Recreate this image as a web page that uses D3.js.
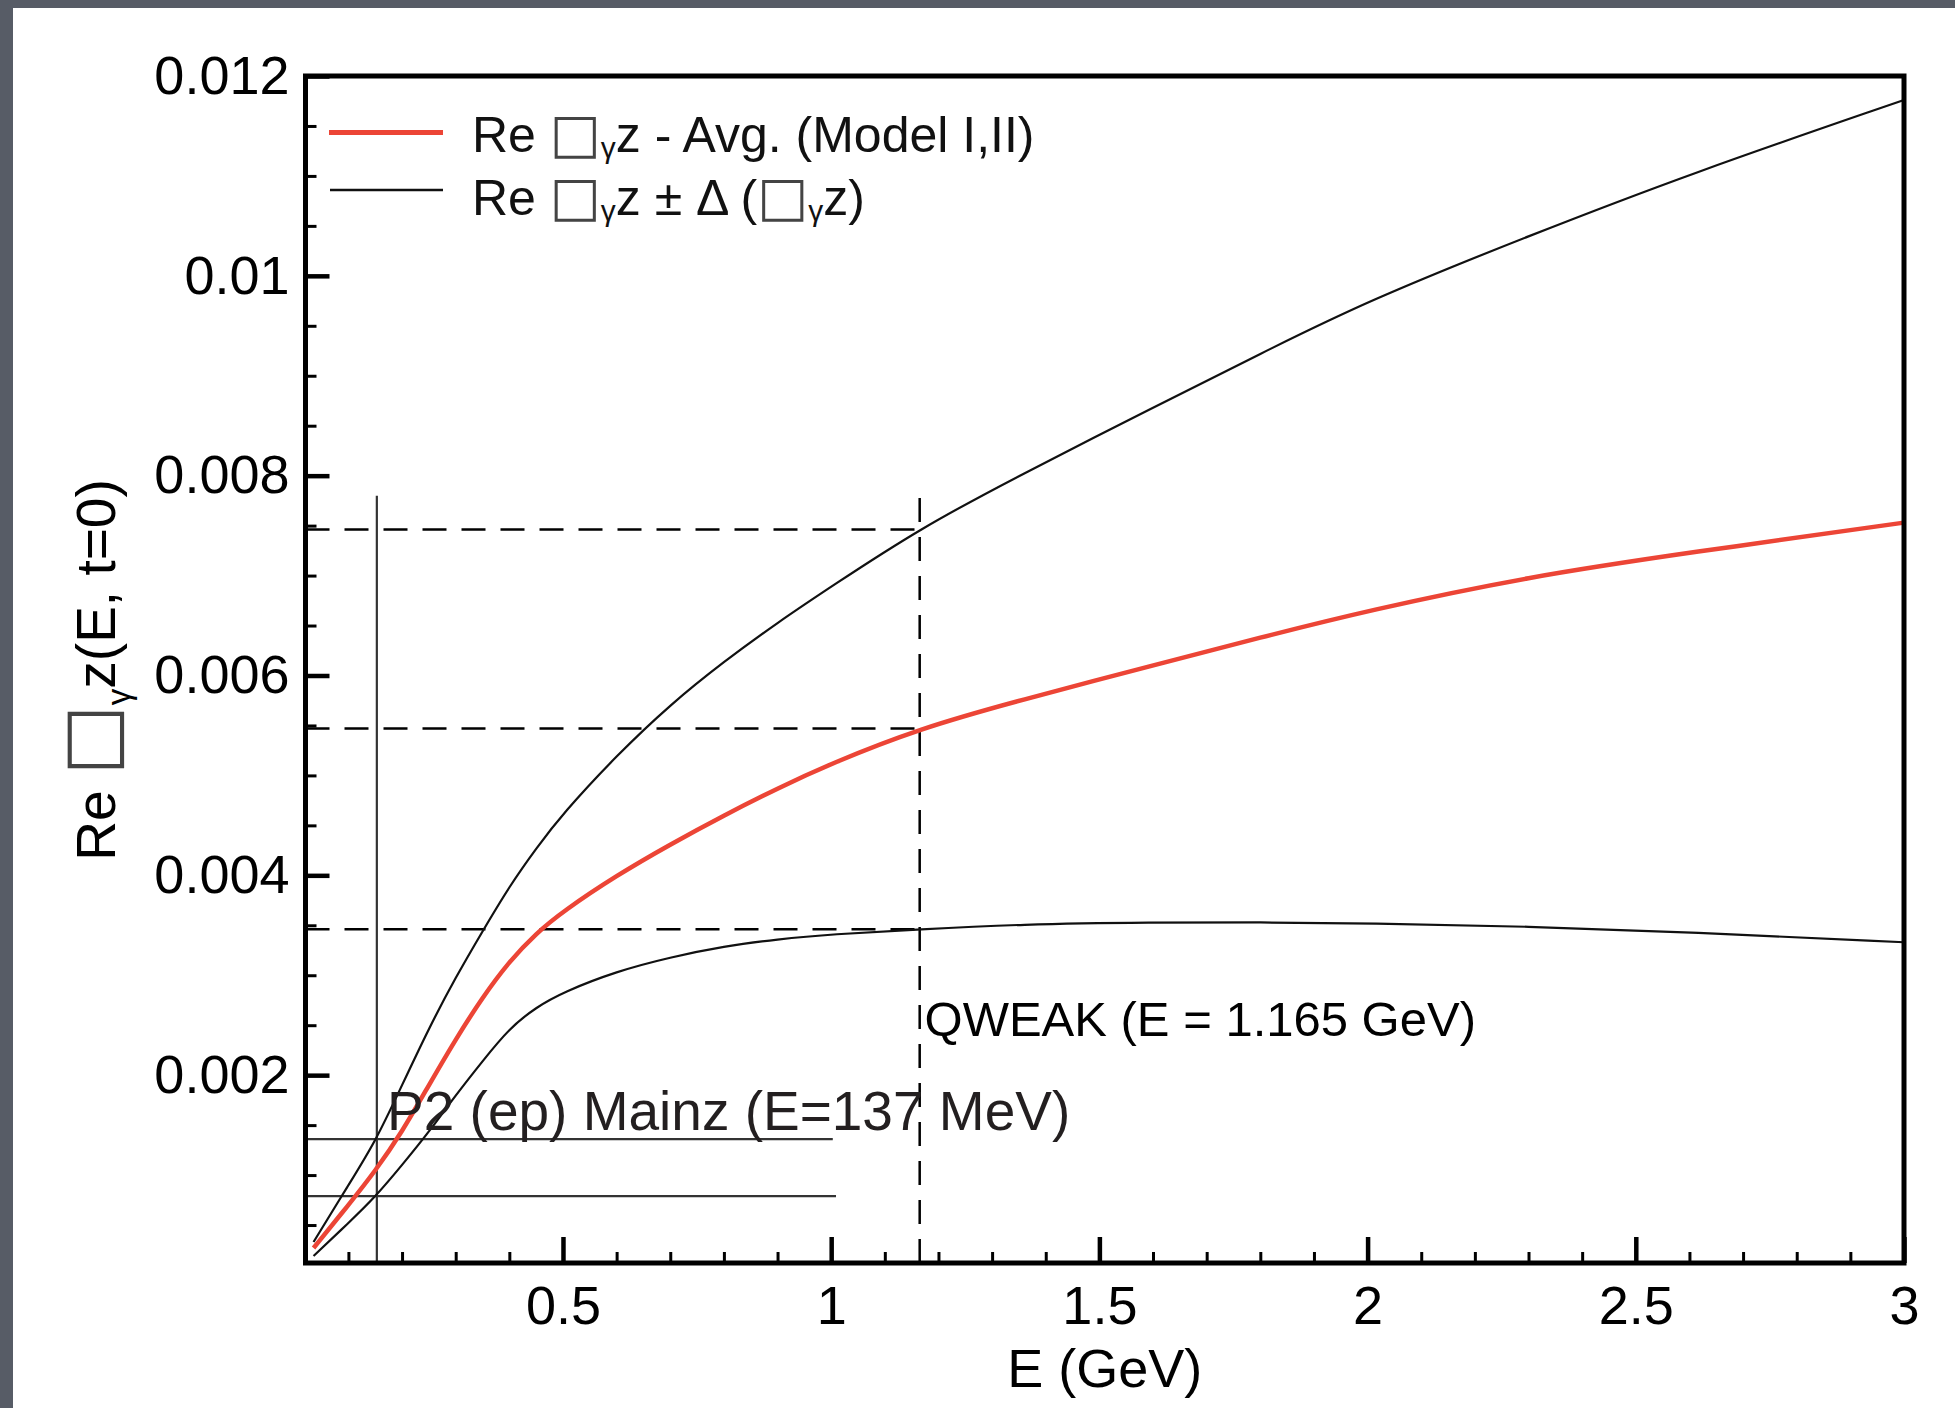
<!DOCTYPE html>
<html>
<head>
<meta charset="utf-8">
<script src="https://cdn.jsdelivr.net/npm/d3@7"></script>
<style>
body { margin: 0; background: #575c66; }
svg { display: block; }
text { font-family: "Liberation Sans", Arial, Helvetica, sans-serif; }
</style>
</head>
<body>
<svg id="chart" width="1955" height="1408"></svg>
<script>
// data (E in GeV)
var energy = [0.035, 0.1, 0.15, 0.2, 0.25, 0.3, 0.35, 0.4, 0.45, 0.5, 0.6, 0.7, 0.8, 0.9, 1.0, 1.165, 1.35, 1.6, 1.8, 2.0, 2.3, 2.6, 3.0];
var avgValues = [0.00027, 0.00070, 0.00104, 0.00143, 0.00190, 0.00236, 0.00278, 0.00314, 0.00342, 0.00364, 0.00400, 0.00431, 0.00460, 0.00487, 0.00512, 0.00547, 0.00575, 0.00610, 0.00638, 0.00665, 0.00699, 0.00723, 0.00753];
var upperValues = [0.00033, 0.00090, 0.00133, 0.00190, 0.00247, 0.00298, 0.00344, 0.00389, 0.00427, 0.00462, 0.00520, 0.00571, 0.00614, 0.00653, 0.00689, 0.00747, 0.00800, 0.00868, 0.00922, 0.00975, 0.01040, 0.01102, 0.01176];
var lowerValues = [0.00019, 0.00052, 0.00078, 0.00110, 0.00143, 0.00180, 0.00214, 0.00247, 0.00268, 0.00283, 0.00304, 0.00318, 0.00329, 0.00336, 0.00341, 0.00346, 0.00351, 0.00353, 0.00353, 0.00352, 0.00349, 0.00343, 0.00333];

// marker lines
var qweakEnergy = 1.165,
    qweakTop = 0.00784,
    qweakLevels = [0.00746, 0.00547, 0.00346];
var p2Energy = 0.153,
    p2Top = 0.0078,
    p2Levels = [0.00136, 0.00079],
    p2LineEnds = [1.003, 1.009];

// ticks
var xMajor = [0.5, 1, 1.5, 2, 2.5, 3],
    xTickLabels = ["0.5", "1", "1.5", "2", "2.5", "3"];
var yMajor = [0.002, 0.004, 0.006, 0.008, 0.01, 0.012],
    yTickLabels = ["0.002", "0.004", "0.006", "0.008", "0.01", "0.012"];
var xMinor = d3.range(1, 30).map(function (i) { return i / 10; }).filter(function (d, i) { return (i + 1) % 5 != 0; });
var yMinor = d3.range(1, 24).map(function (i) { return i * 0.0005; }).filter(function (d, i) { return (i + 1) % 4 != 0; });

// set up layout
var margin = { top: 76, left: 305.5 },
    width = 1904 - 305.5,
    height = 1263 - 76;

var x = d3.scaleLinear().domain([0.02, 3]).range([margin.left, margin.left + width]);
var y = d3.scaleLinear().domain([0.00012, 0.012]).range([margin.top + height, margin.top]);

var svg = d3.select("#chart");

// white page inside the dark border
svg.append("rect")
    .attr("x", 13).attr("y", 8)
    .attr("width", 1955 - 13).attr("height", 1408 - 8)
    .attr("fill", "#ffffff");

function styleAxis(g, w) {
    g.select(".domain").remove();
    g.selectAll(".tick line").attr("stroke", "#000").attr("stroke-width", w);
    g.attr("font-size", 54).attr("font-family", "'Liberation Sans', Arial, sans-serif");
    g.selectAll(".tick text").attr("fill", "#000");
}

// x-axis
svg.append("g")
    .attr("transform", "translate(0," + (margin.top + height) + ")")
    .call(d3.axisBottom(x).tickValues(xMinor).tickFormat("").tickSize(-11))
    .call(styleAxis, 3);

svg.append("g")
    .attr("transform", "translate(0," + (margin.top + height) + ")")
    .call(d3.axisBottom(x).tickValues(xMajor).tickSize(-26).tickPadding(23)
        .tickFormat(function (d, i) { return xTickLabels[i]; }))
    .call(styleAxis, 4.5);

// y-axis
svg.append("g")
    .attr("transform", "translate(" + margin.left + ",0)")
    .call(d3.axisLeft(y).tickValues(yMinor).tickFormat("").tickSize(-11))
    .call(styleAxis, 3);

svg.append("g")
    .attr("transform", "translate(" + margin.left + ",0)")
    .call(d3.axisLeft(y).tickValues(yMajor).tickSize(-24).tickPadding(16)
        .tickFormat(function (d, i) { return yTickLabels[i]; }))
    .call(styleAxis, 4.5);

// dashed QWEAK guides
svg.append("line")
    .attr("x1", x(qweakEnergy)).attr("x2", x(qweakEnergy))
    .attr("y1", y(0.00012)).attr("y2", y(qweakTop))
    .attr("stroke", "#000").attr("stroke-width", 2.5)
    .attr("stroke-dasharray", "24,15");

svg.selectAll(".qweak-level")
    .data(qweakLevels)
    .enter().append("line")
    .attr("class", "qweak-level")
    .attr("x1", x(0.02)).attr("x2", x(qweakEnergy))
    .attr("y1", function (d) { return y(d); })
    .attr("y2", function (d) { return y(d); })
    .attr("stroke", "#000").attr("stroke-width", 2.5)
    .attr("stroke-dasharray", "24,15");

// solid P2 guides
svg.append("line")
    .attr("x1", x(p2Energy)).attr("x2", x(p2Energy))
    .attr("y1", y(0.00012)).attr("y2", y(p2Top))
    .attr("stroke", "#333").attr("stroke-width", 2.2);

svg.selectAll(".p2-level")
    .data(p2Levels)
    .enter().append("line")
    .attr("class", "p2-level")
    .attr("x1", x(0.02))
    .attr("x2", function (d, i) { return x(p2LineEnds[i]); })
    .attr("y1", function (d) { return y(d); })
    .attr("y2", function (d) { return y(d); })
    .attr("stroke", "#333").attr("stroke-width", 2.2);

// curves
var line = d3.line()
    .x(function (d) { return x(d[0]); })
    .y(function (d) { return y(d[1]); })
    .curve(d3.curveBasis);

function series(values) {
    return energy.map(function (e, i) { return [e, values[i]]; });
}

[upperValues, lowerValues].forEach(function (vals) {
    svg.append("path")
        .attr("d", line(series(vals)))
        .attr("fill", "none")
        .attr("stroke", "#111")
        .attr("stroke-width", 2.2);
});

svg.append("path")
    .attr("d", line(series(avgValues)))
    .attr("fill", "none")
    .attr("stroke", "#ec4536")
    .attr("stroke-width", 4.5);

// plot frame
svg.append("rect")
    .attr("x", margin.left).attr("y", margin.top)
    .attr("width", width).attr("height", height)
    .attr("fill", "none")
    .attr("stroke", "#000")
    .attr("stroke-width", 5);

// "Re □γz" pieces
function addBox(t, size, boxSize, sub) {
    t.append("tspan")
        .attr("font-family", "'DejaVu Sans', sans-serif")
        .attr("font-size", boxSize)
        .attr("fill", "#444")
        .text("\u25A1");
    t.append("tspan").attr("font-size", size * 0.6).attr("dy", sub).text("\u03B3");
}

// legend
svg.append("line")
    .attr("x1", 329).attr("x2", 443).attr("y1", 132.5).attr("y2", 132.5)
    .attr("stroke", "#ec4536").attr("stroke-width", 5);
svg.append("line")
    .attr("x1", 330).attr("x2", 443).attr("y1", 190).attr("y2", 190)
    .attr("stroke", "#111").attr("stroke-width", 2.6);

var leg1 = svg.append("text").attr("x", 472).attr("y", 152).attr("font-size", 50).attr("fill", "#111");
leg1.append("tspan").text("Re ");
addBox(leg1, 50, 54, 6);
leg1.append("tspan").attr("dy", -6).text("z - Avg. (Model I,II)");

var leg2 = svg.append("text").attr("x", 472).attr("y", 215).attr("font-size", 50).attr("fill", "#111");
leg2.append("tspan").text("Re ");
addBox(leg2, 50, 54, 6);
leg2.append("tspan").attr("dy", -6).text("z \u00B1 \u0394 (");
addBox(leg2, 50, 54, 6);
leg2.append("tspan").attr("dy", -6).text("z)");

// axis titles
svg.append("text")
    .attr("x", x(1.51)).attr("y", 1387)
    .attr("text-anchor", "middle")
    .attr("font-size", 54)
    .attr("fill", "#000")
    .text("E (GeV)");

var yTitle = svg.append("text")
    .attr("transform", "translate(115,670) rotate(-90)")
    .attr("text-anchor", "middle")
    .attr("font-size", 55)
    .attr("fill", "#000");
yTitle.append("tspan").text("Re ");
addBox(yTitle, 55, 74, 15);
yTitle.append("tspan").attr("dy", -15).text("z(E, t=0)");

// annotations
svg.append("text")
    .attr("x", x(1.174)).attr("y", y(0.00239))
    .attr("font-size", 49)
    .attr("fill", "#000")
    .text("QWEAK (E = 1.165 GeV)");

svg.append("text")
    .attr("x", x(0.172)).attr("y", y(0.00145))
    .attr("font-size", 55)
    .attr("fill", "#231f20")
    .text("P2 (ep) Mainz (E=137 MeV)");
</script>
</body>
</html>
